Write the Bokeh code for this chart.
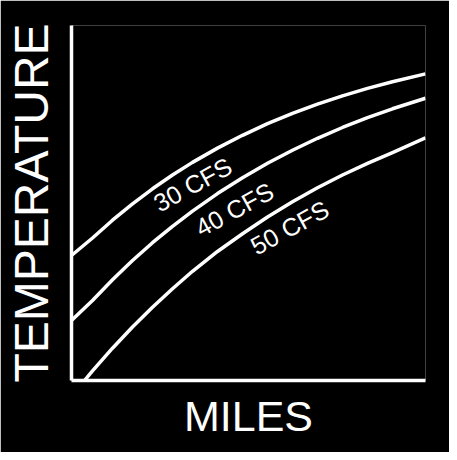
from bokeh.plotting import figure
from bokeh.models import Range1d, FixedTicker, ColumnDataSource
from bokeh.core.properties import value
from bokeh.embed import file_html
from bokeh.resources import INLINE

# Curves (miles, temperature in relative units 0-10)
miles = [0.0, 0.593, 1.158, 1.723, 2.288, 2.853, 3.418, 4.124, 4.831,
         5.537, 6.243, 6.949, 7.655, 8.362, 9.068, 10.0]
temp_30 = [3.521, 4.014, 4.515, 4.977, 5.400, 5.789, 6.144, 6.546, 6.907,
           7.234, 7.524, 7.783, 8.017, 8.228, 8.417, 8.637]
temp_40 = [1.690, 2.256, 2.839, 3.380, 3.882, 4.344, 4.772, 5.265, 5.713,
           6.118, 6.487, 6.823, 7.127, 7.403, 7.654, 7.952]

miles_50 = [0.367, 0.593, 1.158, 1.723, 2.288, 2.853, 3.418, 4.124, 4.831,
            5.537, 6.243, 6.949, 7.655, 8.362, 9.068, 10.0]
temp_50 = [0.0, 0.270, 0.910, 1.507, 2.062, 2.583, 3.076, 3.634, 4.135,
           4.606, 5.034, 5.428, 5.789, 6.118, 6.420, 6.837]

series_labels = ["30 CFS", "40 CFS", "50 CFS"]
label_x = [3.42, 4.60, 6.16]
label_y = [5.52, 4.82, 4.31]
label_angle = [0.50, 0.50, 0.50]

FONT = "Liberation Sans"

p = figure(width=449, height=452,
           x_range=Range1d(0, 10), y_range=Range1d(0, 10),
           output_backend="svg", toolbar_location=None,
           background_fill_color="black", border_fill_color="black",
           min_border_left=71, min_border_right=24,
           min_border_top=25, min_border_bottom=72)
p.outline_line_color = None
p.grid.visible = False

for ax in p.axis:
    ax.ticker = FixedTicker(ticks=[])
    ax.axis_line_color = "white"
    ax.axis_line_width = 3.5
    ax.major_tick_line_color = None
    ax.minor_tick_line_color = None
    ax.major_label_text_font_size = "0px"
    ax.axis_label_text_color = "white"
    ax.axis_label_text_font = FONT
    ax.axis_label_text_font_style = "normal"

p.xaxis.axis_label = "MILES"
p.yaxis.axis_label = "TEMPERATURE"
p.xaxis.axis_label_text_font_size = "43px"
p.yaxis.axis_label_text_font_size = "48px"
p.xaxis.axis_label_standoff = 11
p.yaxis.axis_label_standoff = 14

for xs, ys in [(miles, temp_30), (miles, temp_40), (miles_50, temp_50)]:
    p.line(xs, ys, line_color="white", line_width=3.5, line_join="round")

src = ColumnDataSource(dict(x=label_x, y=label_y, t=series_labels, a=label_angle))
p.text(x="x", y="y", text="t", angle="a", source=src,
       text_color="white", text_font=value(FONT), text_font_size="25px",
       text_align="center", text_baseline="middle")

open("out.html", "w").write(file_html(p, INLINE))
